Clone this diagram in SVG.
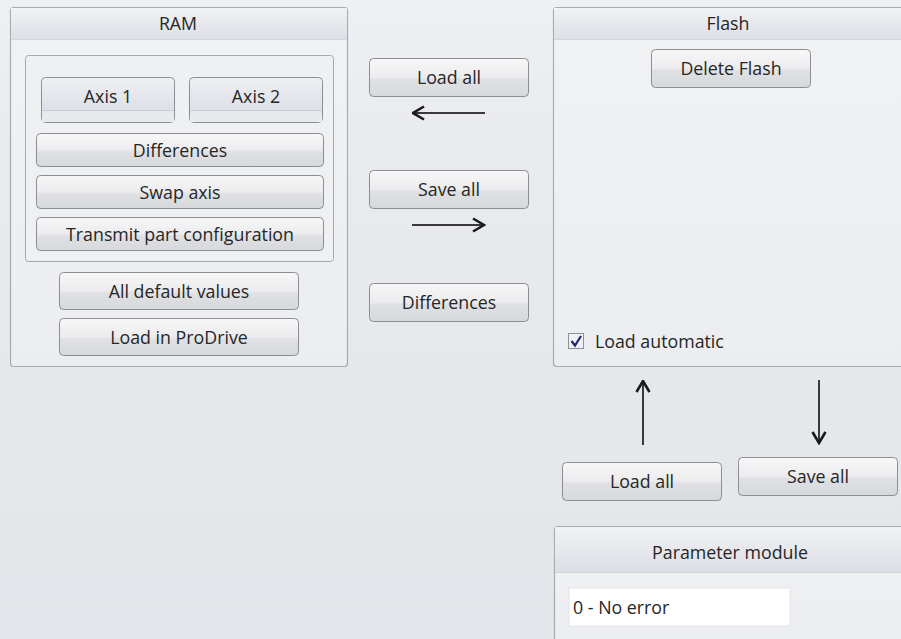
<svg xmlns="http://www.w3.org/2000/svg" width="901" height="639" viewBox="0 0 901 639">
  <defs>
    <linearGradient id="bg" x1="0" y1="0" x2="0" y2="1">
      <stop offset="0" stop-color="#eff0f2"/>
      <stop offset="0.2" stop-color="#e9ebee"/>
      <stop offset="1" stop-color="#e2e5e9"/>
    </linearGradient>
    <linearGradient id="hdr" x1="0" y1="0" x2="0" y2="1">
      <stop offset="0" stop-color="#f1f2f5"/>
      <stop offset="1" stop-color="#dcdfe5"/>
    </linearGradient>
    <linearGradient id="btn" x1="0" y1="0" x2="0" y2="1">
      <stop offset="0" stop-color="#f7f7f8"/>
      <stop offset="0.5" stop-color="#ececee"/>
      <stop offset="0.55" stop-color="#e0e1e4"/>
      <stop offset="1" stop-color="#d7d8dc"/>
    </linearGradient>
    <linearGradient id="tab" x1="0" y1="0" x2="0" y2="1">
      <stop offset="0" stop-color="#eef0f4"/>
      <stop offset="1" stop-color="#d6d9e0"/>
    </linearGradient>
    <linearGradient id="panelBody" x1="0" y1="0" x2="0" y2="1">
      <stop offset="0" stop-color="#f1f2f3"/>
      <stop offset="1" stop-color="#ebedf0"/>
    </linearGradient>
    <marker id="head" viewBox="0 0 14 16" refX="12.5" refY="8" markerWidth="14" markerHeight="16" markerUnits="userSpaceOnUse" orient="auto">
      <path d="M1.5,1.5 L12.5,8 L1.5,14.5" fill="none" stroke="#1a1a1a" stroke-width="2.6" stroke-linejoin="miter"/>
    </marker>
    <style>
      .panel { fill: url(#panelBody); stroke: #a9abb0; stroke-width: 1.2; }
      .hdr { fill: url(#hdr); }
      .btn { fill: url(#btn); stroke: #8c8e93; stroke-width: 1; }
      .tab { fill: url(#tab); stroke: #8c8e93; stroke-width: 1; }
      .grp { fill: #eff0f2; stroke: #a6a8ad; stroke-width: 1; }
      text { font-family: "Segoe UI", "Open Sans", "Noto Sans", "Liberation Sans", sans-serif; font-size: 17.8px; fill: #262626; }
      .c { text-anchor: middle; }
      .arrow { stroke: #3a3a3a; stroke-width: 2; fill: none; marker-end: url(#head); }
    </style>
  </defs>

  <rect width="901" height="639" fill="url(#bg)"/>

  <!-- RAM panel -->
  <g id="ram">
    <rect class="panel" x="10.5" y="7.5" width="337" height="359" rx="3"/>
    <rect class="hdr" x="11" y="8" width="336" height="31"/>
    <line x1="11" y1="39.5" x2="347" y2="39.5" stroke="#d4d6db"/>
    <text class="c" x="178" y="30">RAM</text>
    <rect class="grp" x="25.5" y="55.5" width="308" height="206" rx="3"/>
  </g>
  <g id="axis1">
    <rect class="tab" x="41.5" y="77.5" width="133" height="45" rx="4"/>
    <rect x="42" y="110" width="132" height="12" fill="#e7e9ed"/>
    <line x1="42" y1="110.5" x2="174" y2="110.5" stroke="#c9ccd2"/>
    <text class="c" x="108" y="103">Axis 1</text>
  </g>
  <g id="axis2">
    <rect class="tab" x="189.5" y="77.5" width="133" height="45" rx="4"/>
    <rect x="190" y="110" width="132" height="12" fill="#e7e9ed"/>
    <line x1="190" y1="110.5" x2="322" y2="110.5" stroke="#c9ccd2"/>
    <text class="c" x="256" y="103">Axis 2</text>
  </g>
  <g id="ram-differences">
    <rect class="btn" x="36.5" y="133.5" width="287" height="33" rx="4"/>
    <text class="c" x="180" y="157">Differences</text>
  </g>
  <g id="swap-axis">
    <rect class="btn" x="36.5" y="175.5" width="287" height="33" rx="4"/>
    <text class="c" x="180" y="199">Swap axis</text>
  </g>
  <g id="transmit">
    <rect class="btn" x="36.5" y="217.5" width="287" height="33" rx="4"/>
    <text class="c" x="180" y="241">Transmit part configuration</text>
  </g>
  <g id="all-default">
    <rect class="btn" x="59.5" y="272.5" width="239" height="37" rx="4"/>
    <text class="c" x="179" y="298">All default values</text>
  </g>
  <g id="load-prodrive">
    <rect class="btn" x="59.5" y="318.5" width="239" height="37" rx="4"/>
    <text class="c" x="179" y="344">Load in ProDrive</text>
  </g>

  <!-- Middle buttons -->
  <g id="load-all-mid">
    <rect class="btn" x="369.5" y="58.5" width="159" height="38" rx="4"/>
    <text class="c" x="449" y="84">Load all</text>
  </g>
  <g id="save-all-mid">
    <rect class="btn" x="369.5" y="170.5" width="159" height="38" rx="4"/>
    <text class="c" x="449" y="196">Save all</text>
  </g>
  <g id="differences-mid">
    <rect class="btn" x="369.5" y="283.5" width="159" height="38" rx="4"/>
    <text class="c" x="449" y="309">Differences</text>
  </g>

  <!-- Flash panel -->
  <g id="flash">
    <rect class="panel" x="553.5" y="7.5" width="352" height="359" rx="3"/>
    <rect class="hdr" x="554" y="8" width="347" height="31"/>
    <line x1="554" y1="39.5" x2="901" y2="39.5" stroke="#d4d6db"/>
    <text class="c" x="728" y="30">Flash</text>
  </g>
  <g id="delete-flash">
    <rect class="btn" x="651.5" y="49.5" width="159" height="38" rx="4"/>
    <text class="c" x="731" y="75">Delete Flash</text>
  </g>
  <g id="load-automatic">
    <rect x="568.5" y="333.5" width="15" height="15" fill="#eef0f8" stroke="#8e9098"/>
    <path d="M571.5,341 L575,345.5 L581,336" fill="none" stroke="#23256e" stroke-width="2.2"/>
    <text x="595" y="348">Load automatic</text>
  </g>
  <g id="load-all-flash">
    <rect class="btn" x="562.5" y="462.5" width="159" height="38" rx="4"/>
    <text class="c" x="642" y="488">Load all</text>
  </g>
  <g id="save-all-flash">
    <rect class="btn" x="738.5" y="457.5" width="159" height="38" rx="4"/>
    <text class="c" x="818" y="483">Save all</text>
  </g>

  <!-- Parameter module panel -->
  <g id="parameter-module">
    <rect class="panel" x="554.5" y="526.5" width="352" height="120" rx="3"/>
    <rect class="hdr" x="555" y="527" width="346" height="45"/>
    <line x1="555" y1="572.5" x2="901" y2="572.5" stroke="#d0d2d8"/>
    <text class="c" x="730" y="559">Parameter module</text>
    <rect x="569" y="588" width="221" height="38" fill="#ffffff" stroke="#e2e4e8"/>
    <text x="573" y="614">0 - No error</text>
  </g>

  <!-- Connectors -->
  <g id="connectors">
    <line class="arrow" x1="485" y1="113" x2="413" y2="113"/>
    <line class="arrow" x1="412" y1="225" x2="484" y2="225"/>
    <line class="arrow" x1="643" y1="445" x2="643" y2="381"/>
    <line class="arrow" x1="819" y1="380" x2="819" y2="443"/>
  </g>
</svg>
